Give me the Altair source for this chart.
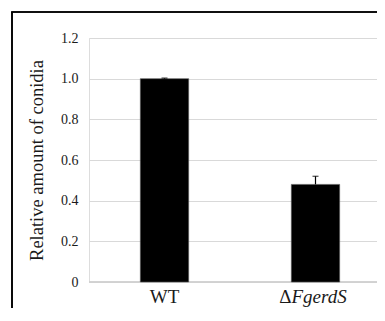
import altair as alt
import pandas as pd

strains = ["WT", "ΔFgerdS"]
means = [1.0, 0.48]
errors = [0.003, 0.04]
y_ticks = [0, 0.2, 0.4, 0.6, 0.8, 1.0, 1.2]

df = pd.DataFrame({"strain": strains, "mean": means, "err": errors})
df["upper"] = df["mean"] + df["err"]

FULL_W = 302          # full band range of the original plot
W, H = 288, 244       # visible part of the plot area
PAD_TOP = 30
SERIF = "Times New Roman, Liberation Serif, serif"
TXT = "#1a1a1a"

xscale = alt.Scale(range=[0, FULL_W], paddingInner=0.68, paddingOuter=0.34)
xenc = alt.X("strain:N", sort=strains, title=None, scale=xscale,
             axis=alt.Axis(labels=False, ticks=False, domain=False, grid=False))
y = alt.Y("mean:Q", title="Relative amount of conidia",
          scale=alt.Scale(domain=[0, 1.2], nice=False),
          axis=alt.Axis(values=y_ticks,
                        labelExpr="datum.value == 0 ? '0' : format(datum.value, '.1f')",
                        ticks=False, domain=False, gridColor="#d9d9d9", gridWidth=1.2,
                        labelFont=SERIF, labelFontSize=14, labelColor=TXT, labelPadding=11,
                        titleFont=SERIF, titleFontSize=18.5, titleFontWeight="normal",
                        titleColor=TXT, titlePadding=14))

base = alt.Chart(df)

bars = base.mark_bar(color="black", stroke="#555555", strokeWidth=0.6).encode(x=xenc, y=y)

err = base.mark_rule(color="black", strokeWidth=1.2).encode(
    x=alt.X("strain:N", sort=strains), y="mean:Q", y2="upper:Q")
cap = base.mark_tick(color="black", orient="horizontal", size=6, thickness=1.2).encode(
    x=alt.X("strain:N", sort=strains), y="upper:Q")

baseline = base.mark_rule(color="#d0d0d0", strokeWidth=1.5).encode(
    x=alt.value(0), x2=alt.value(W), y=alt.value(H))

lab_y = H + 21
wt_label = base.transform_filter(alt.datum.strain == "WT").mark_text(
    font=SERIF, fontSize=19, color=TXT, align="center", baseline="alphabetic").encode(
    x=alt.X("strain:N", sort=strains), y=alt.value(lab_y), text="strain:N")
delta_label = base.transform_filter(alt.datum.strain != "WT").mark_text(
    font=SERIF, fontSize=19, color=TXT, align="right", baseline="alphabetic", dx=-24).encode(
    x=alt.X("strain:N", sort=strains), y=alt.value(lab_y), text=alt.value("Δ"))
name_label = base.transform_filter(alt.datum.strain != "WT").mark_text(
    font=SERIF, fontSize=19, fontStyle="italic", color=TXT, align="left",
    baseline="alphabetic", dx=-24).encode(
    x=alt.X("strain:N", sort=strains), y=alt.value(lab_y), text=alt.value("FgerdS"))

frame_left = base.mark_rule(color="black", strokeWidth=1.6).encode(
    x=alt.value(-77), y=alt.value(4 - PAD_TOP), y2=alt.value(H + 80))
frame_top = base.mark_rule(color="black", strokeWidth=1.6).encode(
    x=alt.value(-77.8), x2=alt.value(W + 60), y=alt.value(4 - PAD_TOP))

chart = alt.layer(baseline, bars, err, cap, wt_label, delta_label, name_label,
                  frame_left, frame_top).properties(
    width=W, height=H,
    autosize=alt.AutoSizeParams(type="none"),
    padding={"left": 81, "top": PAD_TOP, "right": 0, "bottom": 26},
).configure_view(stroke=None).configure(background="white")

chart.save("out.html", embed_options={"renderer": "svg", "actions": False})
